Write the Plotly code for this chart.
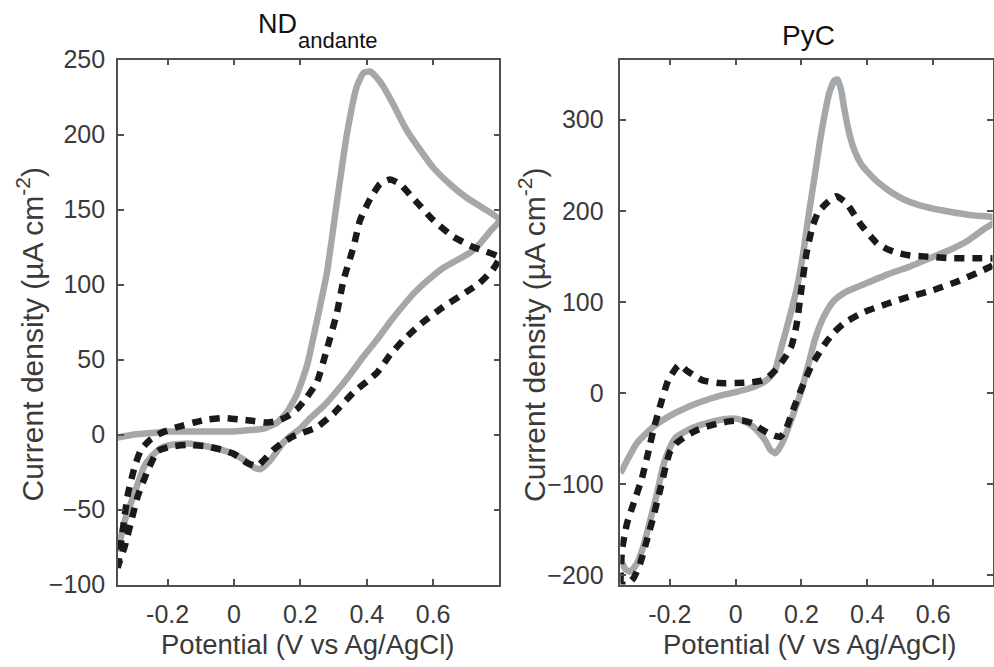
import plotly.graph_objects as go

# ---------------- data ----------------
# ND_andante, solid grey (forward sweep then reverse sweep)
nd_grey_x = [-0.35, -0.30, -0.25, -0.20, -0.15, -0.10, -0.05, 0.00, 0.05, 0.09, 0.13, 0.16, 0.19, 0.22, 0.25, 0.28,
             0.31, 0.34, 0.37, 0.39, 0.41, 0.43, 0.45, 0.48, 0.52, 0.56, 0.60, 0.65, 0.70, 0.75, 0.80,
             0.77, 0.74, 0.71, 0.67, 0.63, 0.59, 0.55, 0.51, 0.47, 0.43, 0.39, 0.35, 0.31, 0.27, 0.23, 0.20,
             0.17, 0.15, 0.13, 0.11, 0.08, 0.06, 0.03, 0.00, -0.04, -0.08, -0.14, -0.19, -0.22, -0.25, -0.27,
             -0.30, -0.33, -0.35]
nd_grey_y = [-2, 0, 1, 2, 2, 2, 2, 2, 3, 4, 8, 15, 27, 46, 76, 108,
             155, 200, 232, 241, 242, 238, 232, 220, 203, 190, 178, 167, 158, 151, 143,
             135, 127, 121, 116, 111, 104, 96, 86, 75, 63, 52, 40, 29, 19, 11, 4,
             -1, -5, -11, -17, -23, -22, -17, -13, -10, -8, -6, -7, -9, -15, -21,
             -39, -58, -78]

# ND_andante, dashed black
nd_black_x = [-0.35, -0.34, -0.33, -0.32, -0.30, -0.28, -0.25, -0.22, -0.17, -0.12, -0.08, -0.03, 0.02, 0.06, 0.10,
              0.13, 0.16, 0.19, 0.22, 0.25, 0.28, 0.31, 0.33, 0.36, 0.38, 0.41, 0.44, 0.47, 0.50, 0.55, 0.60,
              0.66, 0.72, 0.76, 0.80,
              0.78, 0.74, 0.70, 0.63, 0.57, 0.51, 0.47, 0.43, 0.36, 0.30, 0.25, 0.18, 0.15, 0.12, 0.09, 0.07,
              0.04, 0.00, -0.04, -0.08, -0.14, -0.19, -0.23, -0.26, -0.29, -0.31, -0.33, -0.35]
nd_black_y = [-89, -72, -55, -40, -22, -10, -3, 1, 5, 8, 10, 11, 10, 9, 8,
              9, 12, 17, 25, 35, 57, 81, 103, 125, 143, 157, 167, 170, 167, 155, 143,
              132, 125, 122, 118,
              110, 101, 95, 85, 75, 63, 53, 41, 28, 14, 5, -1, -5, -10, -17, -21,
              -19, -13, -10, -8, -7, -8, -11, -24, -41, -58, -75, -88]

# PyC, solid grey
pyc_grey_x = [-0.35, -0.30, -0.25, -0.20, -0.15, -0.10, -0.05, 0.00, 0.04, 0.08, 0.10, 0.12, 0.135, 0.16, 0.184, 0.205,
              0.224, 0.24, 0.255, 0.27, 0.285, 0.30, 0.31, 0.32, 0.33, 0.34, 0.35, 0.36, 0.38, 0.40, 0.43, 0.47,
              0.52, 0.58, 0.65, 0.72, 0.80,
              0.78, 0.75, 0.70, 0.65, 0.59, 0.53, 0.46, 0.40, 0.36, 0.33, 0.30, 0.28, 0.26, 0.24, 0.22, 0.20,
              0.18, 0.16, 0.145, 0.13, 0.12, 0.105, 0.09, 0.07, 0.05, 0.02, 0.00, -0.04, -0.08, -0.13, -0.18,
              -0.20, -0.22, -0.24, -0.26, -0.28, -0.30, -0.32, -0.335, -0.35]
pyc_grey_y = [-88, -55, -37, -25, -16, -9, -3, 1, 5, 11, 16, 25, 45, 78, 112, 153,
              201, 238, 274, 305, 330, 343, 344, 333, 312, 293, 278, 267, 252, 243, 232, 221,
              211, 204, 199, 195, 192,
              186, 179, 166, 157, 148, 139, 130, 121, 115, 110, 102, 92, 78, 58, 30, 3,
              -18, -38, -52, -62, -66, -62, -52, -43, -36, -30, -28, -29, -32, -38, -48,
              -60, -80, -112, -140, -168, -187, -196, -193, -182]

# PyC, dashed black
pyc_black_x = [-0.35, -0.345, -0.33, -0.31, -0.285, -0.266, -0.25, -0.23, -0.205, -0.18, -0.17, -0.15, -0.12, -0.10,
               -0.05, 0.00, 0.05, 0.08, 0.10, 0.12, 0.14, 0.155, 0.17, 0.185, 0.20, 0.215, 0.233, 0.25, 0.275, 0.305,
               0.335, 0.36, 0.38, 0.41, 0.43, 0.46, 0.49, 0.53, 0.57, 0.65, 0.73, 0.80,
               0.78, 0.74, 0.67, 0.60, 0.53, 0.46, 0.39, 0.33, 0.30, 0.275, 0.25, 0.23, 0.20, 0.175, 0.15, 0.135,
               0.12, 0.10, 0.08, 0.05, 0.02, -0.02, -0.05, -0.09, -0.12, -0.15, -0.18, -0.20, -0.21, -0.23,
               -0.25, -0.27, -0.29, -0.31, -0.33, -0.35]
pyc_black_y = [-208, -172, -143, -121, -94, -66, -41, -15, 14, 28, 31, 25, 18, 14,
               11, 11, 12, 14, 18, 25, 34, 42, 52, 75, 115, 153, 182, 198, 208, 216,
               209, 196, 185, 172, 164, 158, 154, 151, 150, 148, 148, 147,
               140, 133, 122, 113, 106, 98, 89, 77, 67, 56, 42, 30, 5, -18, -42, -48,
               -47, -44, -40, -33, -30, -31, -33, -37, -41, -47, -55, -65, -77, -107,
               -136, -162, -187, -203, -210, -210]

x_ticks = [-0.2, 0, 0.2, 0.4, 0.6]
x_tick_text = ["-0.2", "0", "0.2", "0.4", "0.6"]
nd_y_ticks = [-100, -50, 0, 50, 100, 150, 200, 250]
pyc_y_ticks = [-200, -100, 0, 100, 200, 300]

# ---------------- figure ----------------
GREY = "#a5a8ab"
BLACK = "#1a1a1a"
AXC = "#505050"
TXT = "#3a3a3a"
FONT = "Liberation Sans, Arial, sans-serif"

W, H = 994, 667
# the page photo is squeezed vertically a little; place things so they land where the reference has them
SY, OY = 0.958, 14.5


def px(v):
    return v / W


def py(v):
    return 1 - ((v - OY) / SY) / H


fig = go.Figure()
for xs, ys, xa, ya in [(nd_grey_x, nd_grey_y, "x", "y"), (pyc_grey_x, pyc_grey_y, "x2", "y2")]:
    fig.add_trace(go.Scatter(x=xs, y=ys, mode="lines", xaxis=xa, yaxis=ya,
                             line=dict(color=GREY, width=6.5, shape="spline", smoothing=0.5),
                             showlegend=False, hoverinfo="skip"))
for xs, ys, xa, ya in [(nd_black_x, nd_black_y, "x", "y"), (pyc_black_x, pyc_black_y, "x2", "y2")]:
    fig.add_trace(go.Scatter(x=xs, y=ys, mode="lines", xaxis=xa, yaxis=ya,
                             line=dict(color=BLACK, width=6.5, dash="10px,8px", shape="spline", smoothing=0.5),
                             showlegend=False, hoverinfo="skip"))

common_ax = dict(showline=True, linecolor=AXC, linewidth=1.5, mirror="ticks", ticks="inside",
                 ticklen=6, tickwidth=1.5, tickcolor=AXC, showgrid=False, zeroline=False,
                 tickfont=dict(family=FONT, size=25, color=TXT))

y_top, y_bot = py(60), py(585)
fig.update_layout(
    width=W, height=H,
    margin=dict(l=0, r=0, t=0, b=0),
    paper_bgcolor="white", plot_bgcolor="white",
    xaxis=dict(domain=[px(118), px(500)], range=[-0.35, 0.8], tickvals=x_ticks, ticktext=x_tick_text,
               anchor="y", ticklabelstandoff=7, **common_ax),
    yaxis=dict(domain=[y_bot, y_top], range=[-100, 250], tickvals=nd_y_ticks, anchor="x",
               ticklabelstandoff=6, **common_ax),
    xaxis2=dict(domain=[px(621), px(993.5)], range=[-0.35, 0.78], tickvals=x_ticks, ticktext=x_tick_text,
                anchor="y2", ticklabelstandoff=7, **common_ax),
    yaxis2=dict(domain=[y_bot, y_top], range=[-210, 366], tickvals=pyc_y_ticks, anchor="x2",
                ticklabelstandoff=10, **common_ax),
)

ann = []
# titles
ann.append(dict(text="ND", x=px(256), y=py(24), xanchor="left", yanchor="middle",
                font=dict(family=FONT, size=27, color="#111111")))
ann.append(dict(text="andante", x=px(296), y=py(41), xanchor="left", yanchor="middle",
                font=dict(family=FONT, size=22, color="#111111")))
ann.append(dict(text="PyC", x=px(809), y=py(36), xanchor="center", yanchor="middle",
                font=dict(family=FONT, size=28, color="#111111")))
# axis titles
for cx in (308, 810):
    ann.append(dict(text="Potential (V vs Ag/AgCl)", x=px(cx), y=py(645), xanchor="center", yanchor="middle",
                    borderpad=0, font=dict(family=FONT, size=27.5, color=TXT)))
for cx in (30, 532):
    ann.append(dict(text="Current density (µA cm<sup>-2</sup>)", x=px(cx), y=py(335), xanchor="center",
                    yanchor="middle", textangle=-90, font=dict(family=FONT, size=30, color=TXT)))
for a in ann:
    a.update(xref="paper", yref="paper", showarrow=False)
fig.update_layout(annotations=ann)

fig.write_html("out.html", config={"displayModeBar": False},
               post_script="document.body.style.margin='0';document.body.style.padding='0';"
                           "document.documentElement.style.overflow='hidden';")
